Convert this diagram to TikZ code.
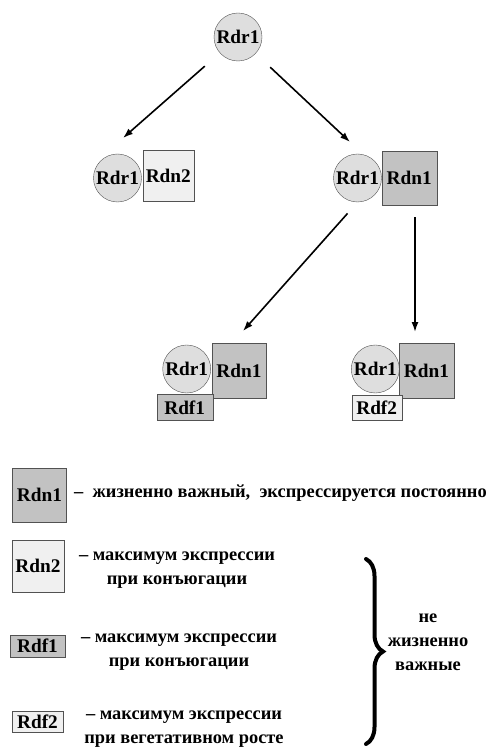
\documentclass[tikz,border=0pt]{standalone}
\usepackage{fontspec}
\setmainfont{Liberation Serif}
\usetikzlibrary{arrows.meta,decorations.pathreplacing}

\definecolor{edge_gray}{gray}{0.32}
\definecolor{circle_gray}{gray}{0.87}
\definecolor{light_gray}{gray}{0.94}
\definecolor{dark_gray}{gray}{0.76}

\tikzstyle{rdr_circle}=[circle,draw=edge_gray,fill=circle_gray,minimum size=48pt,inner sep=0pt]
\tikzstyle{dark_box}=[rectangle,draw=edge_gray,fill=dark_gray,inner sep=0pt]
\tikzstyle{light_box}=[rectangle,draw=edge_gray,fill=light_gray,inner sep=0pt]
\tikzstyle{key_text}=[align=center,inner sep=0pt,font=\bfseries\fontsize{18.4}{24}\selectfont]
\tikzstyle{arrow_line}=[line width=1.6pt,-{Latex[length=10pt,width=7pt]}]

\begin{document}
\begin{tikzpicture}[x=1pt,y=-1pt,font=\bfseries\fontsize{19.3}{24}\selectfont]
\useasboundingbox (0,0) rectangle (491,751);

\node [rdr_circle] (rdr0) at (238,37) {Rdr1};

\node [rdr_circle] (rdr1) at (117.5,178) {Rdr1};
\node [light_box,minimum width=51pt,minimum height=51pt] (rdn2) at (168.3,176.2) {Rdn2};
\node [rdr_circle] (rdr2) at (357.5,178) {Rdr1};
\node [dark_box,minimum width=55pt,minimum height=54pt] (rdn1) at (409.2,177.9) {Rdn1};

\node [rdr_circle] (rdr3) at (186.7,369) {Rdr1};
\node [dark_box,minimum width=54pt,minimum height=55pt] (rdn3) at (238.9,370.4) {Rdn1};
\node [dark_box,minimum width=56pt,minimum height=26.5pt] (rdf1) at (184.7,407.4) {Rdf1};
\node [rdr_circle] (rdr4) at (375.3,369) {Rdr1};
\node [dark_box,minimum width=55pt,minimum height=55pt] (rdn4) at (426.5,370.5) {Rdn1};
\node [light_box,minimum width=50pt,minimum height=25pt] (rdf2) at (376.7,407.5) {Rdf2};

\coordinate (tip_left) at (123,138);
\coordinate (tip_right) at (350,142);
\coordinate (tip_down_left) at (243,331);
\coordinate (tip_down) at (415,332);

\draw[arrow_line,shorten <=20pt] (rdr0) -- (tip_left);
\draw[arrow_line,shorten <=20pt] (rdr0) -- (tip_right);
\draw[arrow_line,shorten <=15pt] (rdr2.south) -- (tip_down_left);
\draw[arrow_line,shorten <=12pt] (rdn1.south -| tip_down) -- (tip_down);

% legend
\node [dark_box,minimum width=54pt,minimum height=54pt] (key_rdn1) at (39.5,495) {Rdn1};
\node [key_text,anchor=west] (key_rdn1_text) at (74,493) {–\ \ жизненно важный,\ \ экспрессируется постоянно};
\node [light_box,minimum width=52pt,minimum height=52pt] (key_rdn2) at (38,566) {Rdn2};
\node [key_text] (key_rdn2_text) at (177,570) {– максимум экспрессии\\при конъюгации};
\node [dark_box,minimum width=55pt,minimum height=22pt] (key_rdf1) at (37.5,646) {Rdf1};
\node [key_text] (key_rdf1_text) at (179,652) {– максимум экспрессии\\при конъюгации};
\node [light_box,minimum width=51pt,minimum height=21pt] (key_rdf2) at (37.5,722) {Rdf2};
\node [key_text] (key_rdf2_text) at (184,729) {– максимум экспрессии\\при вегетативном росте};

\draw[line width=4pt,line cap=round,decorate,decoration={brace,amplitude=17pt}] (366,559) -- (366,744);
\node [key_text] (not_vital) at (428,642) {не\\жизненно\\важные};

\end{tikzpicture}
\end{document}
